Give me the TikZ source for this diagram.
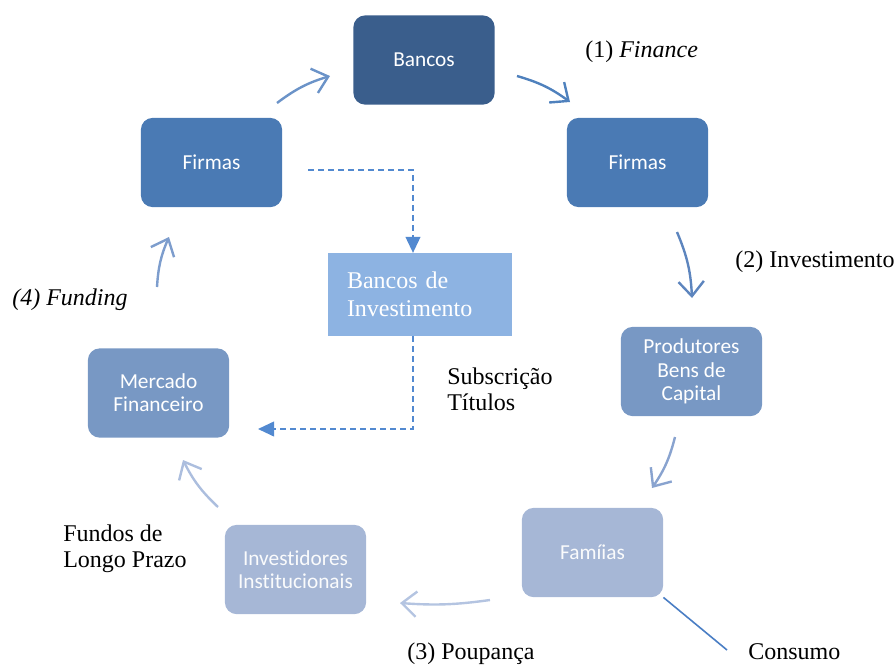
\documentclass[tikz,border=0pt]{standalone}
\usepackage{fontspec}
\setmainfont{Liberation Serif}
\newfontfamily\boxfont[Ligatures=NoCommon]{Carlito}
\usetikzlibrary{arrows.meta}

\definecolor{bancosC}{RGB}{58,94,140}
\definecolor{firmasC}{RGB}{74,122,180}
\definecolor{bdiC}{RGB}{141,179,226}
\definecolor{prodC}{RGB}{120,152,196}
\definecolor{famC}{RGB}{166,183,214}
\definecolor{dashC}{RGB}{82,137,208}

\begin{document}
\begin{tikzpicture}[x=0.75pt,y=-0.75pt,
  box/.style={rounded corners=9pt,minimum width=106pt,minimum height=67pt,inner sep=2pt,
    align=center,text=white,font=\boxfont\fontsize{16}{17.4}\selectfont},
  lbl/.style={anchor=base west,inner sep=0pt,align=left,font=\fontsize{18}{19}\selectfont},
  flow/.style={-{Straight Barb[length=11pt,width=19pt]},line width=1.8pt,bend left=10},
  sub/.style={dash pattern=on 4.5pt off 3pt,line width=1.4pt,dashC,-{Triangle[length=12pt,width=11pt]}}]
\useasboundingbox (0,0) rectangle (896,664);

% caixas
\node[box,fill=bancosC] (bancos) at (424,60) {Bancos};
\node[box,fill=firmasC] (firmasR) at (637.5,162.5) {Firmas};
\node[box,fill=firmasC] (firmasL) at (211.5,162.5) {Firmas};
\node[fill=bdiC,minimum width=138pt,minimum height=62pt,inner xsep=14.25pt,text width=109.5pt,
  align=left,text=white,font=\fontsize{18}{20.8}\selectfont] (bdi) at (420,294.5) {Bancos de\\Investimento};
\node[box,fill=prodC] (prod) at (691.5,371.5) {Produtores\\Bens de\\Capital};
\node[box,fill=prodC] (merc) at (158.5,393) {Mercado\\Financeiro};
\node[box,fill=famC,text=white!94!famC] (fam) at (592.5,552.5) {Famíias};
\node[box,fill=famC,text=white!94!famC] (inv) at (295.5,569.5) {Investidores\\Institucionais};

% pontas das setas
\coordinate (a1) at (517,76);  \coordinate (b1) at (570,102);
\coordinate (a2) at (677,232); \coordinate (b2) at (692,298);
\coordinate (a3) at (675,437); \coordinate (b3) at (652,488);
\coordinate (a4) at (490,600); \coordinate (b4) at (400,603);
\coordinate (a5) at (218,507); \coordinate (b5) at (183,460);
\coordinate (a6) at (157,287); \coordinate (b6) at (169,237);
\coordinate (a7) at (277,103); \coordinate (b7) at (330,76);

\draw[flow,color={rgb,255:red,79;green,129;blue,189}] (a1) to (b1);
\draw[flow,color={rgb,255:red,93;green,133;blue,190}] (a2) to (b2);
\draw[flow,color={rgb,255:red,137;green,163;blue,207}] (a3) to (b3);
\draw[flow,bend left=6,color={rgb,255:red,180;green,196;blue,225}] (a4) to (b4);
\draw[flow,color={rgb,255:red,172;green,190;blue,222}] (a5) to (b5);
\draw[flow,color={rgb,255:red,125;green,157;blue,205}] (a6) to (b6);
\draw[flow,color={rgb,255:red,107;green,147;blue,200}] (a7) to (b7);

% subscricao
\coordinate (d1) at (308,170);
\coordinate (d2) at (258,429);
\draw[sub] (d1) -| ([xshift=-5.25pt]bdi.north);
\draw[sub] ([xshift=-5.25pt]bdi.south) |- (d2);

% consumo
\coordinate (c1) at (727,650);
\draw[line width=1.2pt,color={rgb,255:red,74;green,126;blue,196}] (fam.south east) -- (c1);

% legendas
\node[lbl] (l1) at (585,57) {(1) \textit{Finance}};
\node[lbl] (l2) at (735,267) {(2) Investimento};
\node[lbl] (l3) at (407,659) {(3) Poupança};
\node[lbl] (l4) at (12,305) {\textit{(4) Funding}};
\node[lbl] (l5) at (447,410) {Subscrição\\Títulos};
\node[lbl] (l6) at (63,567) {Fundos de\\Longo Prazo};
\node[lbl] (l7) at (748,659) {Consumo};
\end{tikzpicture}
\end{document}
